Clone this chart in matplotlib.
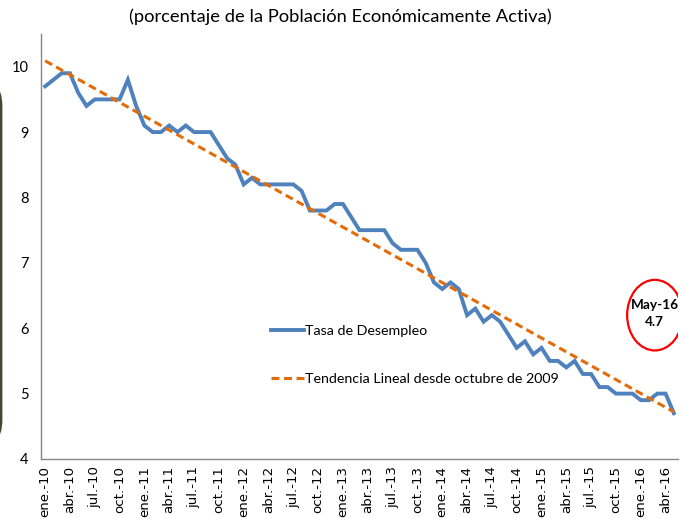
import matplotlib
matplotlib.use("Agg")
import matplotlib.pyplot as plt
from matplotlib.patches import Ellipse, FancyBboxPatch
from matplotlib.lines import Line2D

# ---- data ----
tick_labels = ["ene.-10", "abr.-10", "jul.-10", "oct.-10",
               "ene.-11", "abr.-11", "jul.-11", "oct.-11",
               "ene.-12", "abr.-12", "jul.-12", "oct.-12",
               "ene.-13", "abr.-13", "jul.-13", "oct.-13",
               "ene.-14", "abr.-14", "jul.-14", "oct.-14",
               "ene.-15", "abr.-15", "jul.-15", "oct.-15",
               "ene.-16", "abr.-16"]
unemployment = [9.7, 9.8, 9.9, 9.9, 9.6, 9.4, 9.5, 9.5, 9.5, 9.5, 9.8, 9.4,
                9.1, 9.0, 9.0, 9.1, 9.0, 9.1, 9.0, 9.0, 9.0, 8.8, 8.6, 8.5,
                8.2, 8.3, 8.2, 8.2, 8.2, 8.2, 8.2, 8.1, 7.8, 7.8, 7.8, 7.9,
                7.9, 7.7, 7.5, 7.5, 7.5, 7.5, 7.3, 7.2, 7.2, 7.2, 7.0, 6.7,
                6.6, 6.7, 6.6, 6.2, 6.3, 6.1, 6.2, 6.1, 5.9, 5.7, 5.8, 5.6,
                5.7, 5.5, 5.5, 5.4, 5.5, 5.3, 5.3, 5.1, 5.1, 5.0, 5.0, 5.0,
                4.9, 4.9, 5.0, 5.0, 4.7]
trend_endpoints = [10.09, 4.72]   # linear trend value at first and last month
y_ticks = [4, 5, 6, 7, 8, 9, 10]
annot_label = "May-16\n4.7"

title = "(porcentaje de la Población Económicamente Activa)"
series_name = "Tasa de Desempleo"
trend_name = "Tendencia Lineal desde octubre de 2009"

BLUE = "#4F81BD"
ORANGE = "#E36C09"
FONT = "Lato"
DASH = (2.6, 1.5)

fig = plt.figure(figsize=(6.85, 5.18), dpi=100)
ax = fig.add_axes([41 / 685, 59 / 518, 637 / 685, 425 / 518])

x = list(range(len(unemployment)))
ax.plot(x, unemployment, color=BLUE, lw=2.8, solid_joinstyle="miter",
        label=series_name, zorder=3)
ax.plot([x[0], x[-1]], trend_endpoints, color=ORANGE, lw=2.2,
        dashes=DASH, label=trend_name, zorder=4)

ax.set_xlim(-0.5, len(unemployment) - 0.5)
ax.set_ylim(4, 10.5)
ax.set_yticks(y_ticks)
ax.set_yticklabels([str(v) for v in y_ticks], fontsize=10.5, fontfamily=FONT)
ax.set_xticks(x[::3])
ax.set_xticklabels(tick_labels, rotation=90, fontsize=9.6,
                   fontfamily="DejaVu Sans", va="top", ha="center")
ax.tick_params(axis="both", length=0)
ax.tick_params(axis="y", pad=9)
ax.tick_params(axis="x", pad=5)
for s in ["top", "right"]:
    ax.spines[s].set_visible(False)
for s in ["left", "bottom"]:
    ax.spines[s].set_color("#868686")
    ax.spines[s].set_linewidth(1.0)

# legend
handles = [Line2D([], [], color=BLUE, lw=2.8),
           Line2D([], [], color=ORANGE, lw=2.2, dashes=DASH)]
leg = ax.legend(handles, [series_name, trend_name], loc="upper left",
                bbox_to_anchor=(264 / 685, (518 - 318) / 518),
                bbox_transform=fig.transFigure, frameon=False,
                prop={"family": FONT, "size": 10.3}, handlelength=2.3,
                handletextpad=0.1, labelspacing=2.5, borderpad=0)

# annotation
cx, cy = 73.7, 6.2
ax.add_patch(Ellipse((cx, cy), 6.7, 1.08, fill=False, edgecolor="#FF0000",
                     lw=1.6, zorder=5))
ax.text(cx, cy + 0.02, annot_label, ha="center", va="center", fontsize=9.8,
        fontweight="bold", fontfamily=FONT, linespacing=1.5, zorder=6)

# title
fig.text(340 / 685, 1 - 17 / 518, title, ha="center", va="center",
         fontsize=13.2, fontfamily=FONT)

# dark rounded frame edge at left
frame = FancyBboxPatch((-200, 520 - 452), 201.0, 452 - 78,
                       boxstyle="round,pad=0,rounding_size=30",
                       transform=None, fill=False, edgecolor="#4A4433",
                       lw=2.0, figure=fig)
fig.patches.append(frame)

fig.savefig("out.png", dpi=100)
